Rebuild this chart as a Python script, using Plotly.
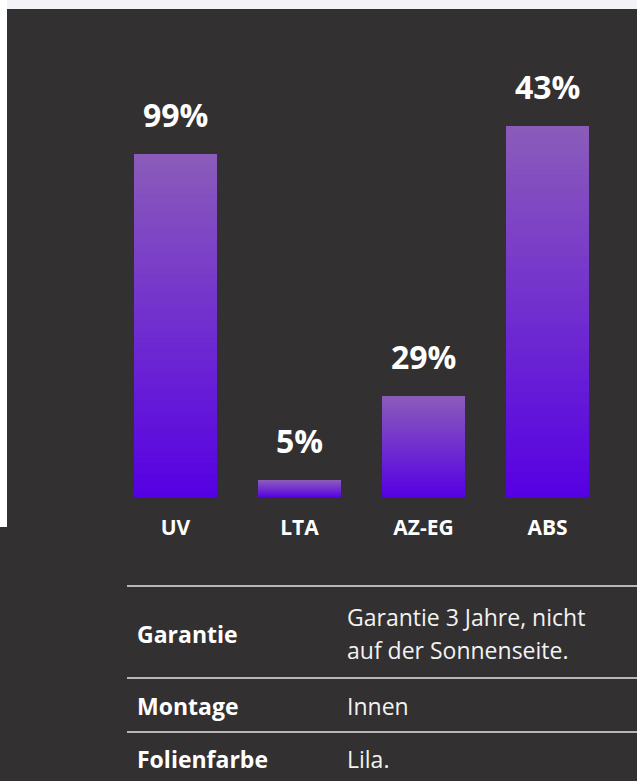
import plotly.graph_objects as go

# ---- data ----
categories = ["UV", "LTA", "AZ-EG", "ABS"]
value_labels = ["99%", "5%", "29%", "43%"]
# displayed bar heights (relative units)
bar_heights = [343, 17, 101, 371]

table_labels = ["Garantie", "Montage", "Folienfarbe"]
table_values = [["Garantie 3 Jahre, nicht", "auf der Sonnenseite."], ["Innen"], ["Lila."]]

# ---- style ----
W, H = 637, 781
BG = "#323031"
TOP_COLOR = (0x8b, 0x5c, 0xba)
BOTTOM_COLOR = (0x56, 0x00, 0xe3)
N_SEG = 60
FONT = "Open Sans"


def py(px):
    """pixel-from-top -> paper y"""
    return (H - px) / H


def lerp(c0, c1, t):
    return "rgb(%d,%d,%d)" % tuple(round(a + (b - a) * t) for a, b in zip(c0, c1))


fig = go.Figure()

# gradient bars: each bar is a stack of thin segments, coloured bottom->top
for k in range(N_SEG):
    t = (k + 0.5) / N_SEG
    fig.add_trace(go.Bar(
        x=categories,
        y=[h / N_SEG for h in bar_heights],
        marker=dict(color=lerp(BOTTOM_COLOR, TOP_COLOR, t), line=dict(width=0)),
        hoverinfo="skip",
        showlegend=False,
    ))

annotations = []
for c, h, lab in zip(categories, bar_heights, value_labels):
    annotations.append(dict(
        x=c, y=h, xref="x", yref="y", text=lab, showarrow=False,
        yanchor="middle", yshift=40,
        font=dict(family=FONT, size=32, color="white", weight=700),
    ))

# table
row_y = [634, 706, 759]
value_y = [[617, 650], [706], [759]]
for lab, vals, ry, vys in zip(table_labels, table_values, row_y, value_y):
    annotations.append(dict(
        x=135 / W, y=py(ry), xref="paper", yref="paper", text=lab,
        showarrow=False, xanchor="left", yanchor="middle",
        font=dict(family=FONT, size=23, color="white", weight=700),
    ))
    for v, vy in zip(vals, vys):
        annotations.append(dict(
            x=345 / W, y=py(vy), xref="paper", yref="paper", text=v,
            showarrow=False, xanchor="left", yanchor="middle",
            font=dict(family=FONT, size=23, color="#f2f2f2"),
        ))

shapes = [
    # page frame strips (top and left)
    dict(type="rect", xref="paper", yref="paper", x0=0, x1=1, y0=py(9), y1=1,
         fillcolor="#f3f2f7", line=dict(width=0), layer="above"),
    dict(type="rect", xref="paper", yref="paper", x0=0, x1=7 / W, y0=py(527), y1=1,
         fillcolor="#ffffff", line=dict(width=0), layer="above"),
]
for ly in [586, 678, 732]:
    shapes.append(dict(type="line", xref="paper", yref="paper",
                       x0=127 / W, x1=1, y0=py(ly), y1=py(ly),
                       line=dict(color="#e4e4e4", width=1.5)))

fig.update_layout(
    width=W, height=H,
    margin=dict(l=0, r=0, t=0, b=0),
    paper_bgcolor=BG, plot_bgcolor=BG,
    barmode="stack", bargap=0.323,
    showlegend=False,
    xaxis=dict(domain=[113.5 / W, 609.5 / W], showgrid=False, zeroline=False,
               showline=False, ticks="", fixedrange=True,
               tickfont=dict(family=FONT, size=21, color="white", weight=700),
               ticklabelstandoff=16),
    yaxis=dict(domain=[py(497), py(97)], range=[0, 400], visible=False,
               fixedrange=True),
    annotations=annotations,
    shapes=shapes,
)

fig.write_html(
    "out.html",
    config={"displayModeBar": False},
    post_script="document.body.style.margin='0';document.body.style.overflow='hidden';",
)
